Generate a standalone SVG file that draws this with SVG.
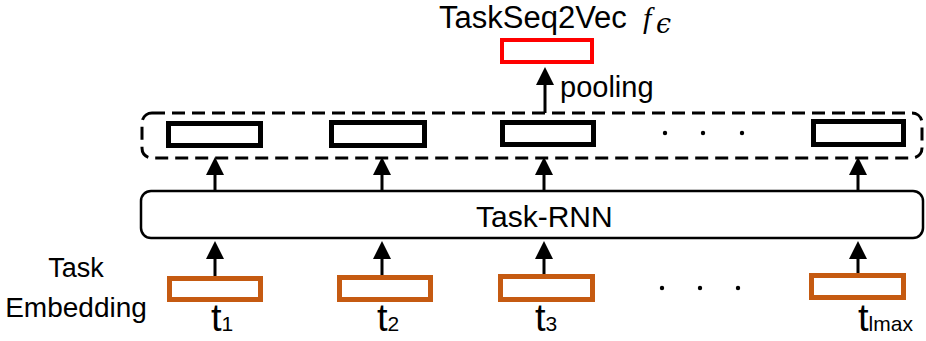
<svg xmlns="http://www.w3.org/2000/svg" width="926" height="341" viewBox="0 0 926 341">
  <style>
    .lbl { font-family: "Liberation Sans", Arial, sans-serif; fill: #000; }
    .vec { fill: #fff; stroke: #000; stroke-width: 5; }
    .emb { fill: #fff; stroke: #C55A11; stroke-width: 5; }
    .out { fill: #fff; stroke: #FF0000; stroke-width: 4; }
    .conn { stroke: #000; stroke-width: 3; fill: none; marker-end: url(#arrow); }
    .dot { fill: #000; }
    .tk { font-size: 38px; }
    .sub { font-size: 21px; }
  </style>
  <defs>
    <marker id="arrow" markerUnits="userSpaceOnUse" markerWidth="19" markerHeight="19" refX="8" refY="9" orient="auto">
      <path d="M0,0 L18,9 L0,18 Z" fill="#000"/>
    </marker>
  </defs>

  <rect width="926" height="341" fill="#fff"/>

  <!-- sequence output container -->
  <g id="hidden-states">
    <rect x="142" y="113" width="780" height="45" rx="10" ry="10" fill="none" stroke="#000" stroke-width="3" stroke-dasharray="13 7"/>
    <rect class="vec" x="168.5" y="123.5" width="92" height="22"/>
    <rect class="vec" x="331.5" y="122.5" width="93" height="23"/>
    <rect class="vec" x="502.5" y="122.5" width="91" height="22"/>
    <rect class="vec" x="813.5" y="121.5" width="90" height="23"/>
    <circle class="dot" cx="665" cy="133" r="2.2"/>
    <circle class="dot" cx="703" cy="133" r="2.2"/>
    <circle class="dot" cx="742" cy="133" r="2.2"/>
  </g>

  <!-- pooled task vector -->
  <g id="taskseq2vec">
    <rect class="out" x="502" y="40" width="90" height="22"/>
    <text class="lbl" x="439" y="28" font-size="31">TaskSeq2Vec</text>
    <text x="643" y="28" font-family="'Liberation Serif', 'Times New Roman', serif" font-style="italic" font-size="30">f</text>
    <text x="656" y="33" font-family="'DejaVu Serif', serif" font-style="italic" font-size="27">ϵ</text>
  </g>

  <!-- recurrent encoder -->
  <g id="task-rnn">
    <rect x="141" y="191" width="782" height="47" rx="10" ry="10" fill="#fff" stroke="#000" stroke-width="2.5"/>
    <text class="lbl" x="476" y="227" font-size="30">Task-RNN</text>
  </g>

  <!-- task embeddings -->
  <g id="embeddings">
    <text class="lbl" x="76" y="277" font-size="27" text-anchor="middle">Task</text>
    <text class="lbl" x="76" y="317" font-size="28" text-anchor="middle">Embedding</text>
  </g>
  <g id="t1">
    <rect class="emb" x="169.5" y="278.5" width="91" height="21"/>
    <text class="lbl tk" x="211" y="331">t<tspan class="sub">1</tspan></text>
  </g>
  <g id="t2">
    <rect class="emb" x="339.5" y="277.5" width="91" height="22"/>
    <text class="lbl tk" x="377" y="331">t<tspan class="sub">2</tspan></text>
  </g>
  <g id="t3">
    <rect class="emb" x="500.5" y="276.5" width="92" height="23"/>
    <text class="lbl tk" x="535" y="331">t<tspan class="sub">3</tspan></text>
  </g>
  <g id="t-lmax">
    <rect class="emb" x="811.5" y="275.5" width="92" height="22"/>
    <text class="lbl tk" x="858" y="331">t<tspan class="sub">lmax</tspan></text>
  </g>
  <g id="ellipsis">
    <circle class="dot" cx="662" cy="288" r="2.2"/>
    <circle class="dot" cx="700" cy="288" r="2.2"/>
    <circle class="dot" cx="738" cy="288" r="2.2"/>
  </g>

  <!-- connectors -->
  <g id="connectors">
    <line class="conn" x1="215" y1="276" x2="215" y2="251"/>
    <line class="conn" x1="382" y1="275" x2="382" y2="251"/>
    <line class="conn" x1="544" y1="274" x2="544" y2="251"/>
    <line class="conn" x1="858" y1="273" x2="858" y2="251"/>
    <line class="conn" x1="215" y1="191" x2="215" y2="167"/>
    <line class="conn" x1="382" y1="191" x2="382" y2="167"/>
    <line class="conn" x1="544" y1="191" x2="544" y2="167"/>
    <line class="conn" x1="858" y1="191" x2="858" y2="167"/>
    <line class="conn" x1="545" y1="113" x2="545" y2="77"/>
    <text class="lbl" x="560" y="97" font-size="29">pooling</text>
  </g>
</svg>
